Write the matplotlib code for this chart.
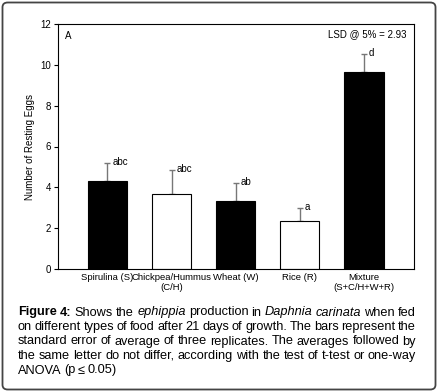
import numpy as np
import matplotlib.pyplot as plt
from matplotlib.patches import FancyBboxPatch

plt.rcParams['font.family'] = ['Liberation Sans', 'DejaVu Sans']

# data
foods = ['Spirulina (S)', 'Chickpea/Hummus\n(C/H)', 'Wheat (W)', 'Rice (R)', 'Mixture\n(S+C/H+W+R)']
eggs = [4.33, 3.67, 3.33, 2.33, 9.67]
se = [0.88, 1.20, 0.87, 0.67, 0.88]
letters = ['abc', 'abc', 'ab', 'a', 'd']
colors = ['black', 'white', 'black', 'white', 'black']

caption = [
    [('Figure', 'bold'), ('4:', 'bold'), ('Shows', 'n'), ('the', 'n'), ('ephippia', 'i'),
     ('production', 'n'), ('in', 'n'), ('Daphnia', 'i'), ('carinata', 'i'), ('when', 'n'), ('fed', 'n')],
    [(w, 'n') for w in 'on different types of food after 21 days of growth. The bars represent the'.split()],
    [(w, 'n') for w in 'standard error of average of three replicates. The averages followed by'.split()],
    [(w, 'n') for w in 'the same letter do not differ, according with the test of t-test or one-way'.split()],
    [(w, 'n') for w in 'ANOVA (p \u2264 0.05)'.split()],
]

W, H = 438, 392
fig = plt.figure(figsize=(W / 100, H / 100), dpi=100)

frame = FancyBboxPatch((2.5 / W, 2.5 / H), (W - 5) / W, (H - 5) / H,
                       boxstyle='round,pad=0,rounding_size=0.012', transform=fig.transFigure,
                       fill=False, edgecolor='#444444', linewidth=1.3)
fig.patches.append(frame)

ax = fig.add_axes([58 / W, 1 - 269 / H, (414 - 58) / W, (269 - 24) / H])
x = np.arange(len(foods))
ax.bar(x, eggs, width=0.61, color=colors, edgecolor='black', linewidth=0.8, zorder=2)
ax.errorbar(x, eggs, yerr=[np.zeros(len(se)), se], fmt='none', ecolor='#777777',
            elinewidth=1.0, capsize=2.2, capthick=1.0, zorder=1)
for xi, e, s, lab in zip(x, eggs, se, letters):
    ax.text(xi + 0.08, e + s + 0.05, lab, fontsize=7, va='center', ha='left')

ax.set_xlim(-0.77, 4.78)
ax.set_ylim(0, 12)
ax.set_yticks(range(0, 13, 2))
ax.set_xticks(x)
ax.set_xticklabels(foods, fontsize=6.8, linespacing=1.1)
ax.tick_params(axis='x', length=0, pad=3)
ax.tick_params(axis='y', labelsize=7, length=3, width=0.8, pad=2)
for sp in ax.spines.values():
    sp.set_linewidth(0.8)
ax.set_ylabel('Number of Resting Eggs', fontsize=7, labelpad=4)
ax.text(0.02, 0.95, 'A', transform=ax.transAxes, fontsize=7, va='center')
ax.text(0.98, 0.96, 'LSD @ 5% = 2.93', transform=ax.transAxes, fontsize=7, va='center', ha='right')

# justified caption
fig.canvas.draw()
r = fig.canvas.get_renderer()
left, right = 18, 416
ys = [312.5, 327, 341.5, 356, 370.5]
for li, (line, yp) in enumerate(zip(caption, ys)):
    texts = []
    for w, st in line:
        kw = dict(fontsize=9.2, va='center', ha='left', color='black')
        if st == 'bold':
            kw['fontweight'] = 'bold'
        if st == 'i':
            kw['fontstyle'] = 'italic'
        t = fig.text(0, 1 - yp / H, w, **kw)
        texts.append(t)
    widths = [t.get_window_extent(r).width for t in texts]
    if li < len(caption) - 1:
        gap = (right - left - sum(widths)) / (len(texts) - 1)
    else:
        gap = 2.6
    xp = left
    for t, wd in zip(texts, widths):
        t.set_x(xp / W)
        xp += wd + gap

fig.savefig('out.png', dpi=100)
